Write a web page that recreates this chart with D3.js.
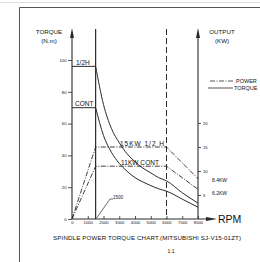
<!DOCTYPE html>
<html>
<head>
<meta charset="utf-8">
<script src="https://cdn.jsdelivr.net/npm/d3@7"></script>
<style>
  body { margin: 0; background: #fff; }
  svg text { font-family: "Liberation Sans Narrow", "Liberation Sans", Arial, sans-serif; fill: #111; }
</style>
</head>
<body>
<svg id="chart" width="260" height="262"></svg>
<script>
// chart data
var rpmTicks = [0, 1000, 2000, 3000, 4000, 5000, 6000, 7000, 8000];
var torqueTicks = [0, 20, 40, 60, 80, 100];
var powerTicks = [5, 10, 15, 20];

var rpm = [0, 1500, 2000, 2500, 3000, 3500, 4000, 4500, 5000, 5500, 6000, 7000, 8000];
var torqueHalfHour = [96, 96, 72, 57, 48, 41, 36, 32, 29, 26, 24, 16.5, 10];
var torqueCont = [70, 70, 52.5, 42, 35, 30, 26, 23.3, 21, 19, 17.5, 12.5, 7.4];

var powerRpm = [0, 1500, 6000, 8000];
var powerHalfHour = [0, 15, 15, 8.4];
var powerCont = [0, 11, 11, 6.2];

var baseRpm = 1500, maxRpm = 6000;

var svg = d3.select("#chart");
var ink = "#2a2a2a";

var x = d3.scaleLinear().domain([0, 8000]).range([72, 198]);
var yT = d3.scaleLinear().domain([0, 100]).range([219, 60]);
var yP = d3.scaleLinear().domain([0, 20]).range([219, 123]);

// drawing frame
svg.append("line").attr("x1", 0).attr("x2", 260).attr("y1", 2.5).attr("y2", 2.5)
   .attr("stroke", "#ddd").attr("stroke-width", 1);
svg.append("path").attr("d", "M19.5,262V7.5H260").attr("fill", "none")
   .attr("stroke", "#555").attr("stroke-width", 1);

// axes
var bottom = svg.append("g").attr("transform", "translate(0," + yT(0) + ")")
  .call(d3.axisBottom(x).tickValues(rpmTicks).tickSize(-3).tickPadding(4).tickFormat(d3.format("d")));
var left = svg.append("g").attr("transform", "translate(" + x(0) + ",0)")
  .call(d3.axisLeft(yT).tickValues(torqueTicks).tickSize(4).tickPadding(1.5));
var right = svg.append("g").attr("transform", "translate(" + x(8000) + ",0)")
  .call(d3.axisRight(yP).tickValues(powerTicks).tickSize(3).tickPadding(2));

[bottom, left, right].forEach(function(g) {
  g.select(".domain").remove();
  g.selectAll("line").attr("stroke", ink).attr("stroke-width", 0.8);
  g.selectAll("text").attr("font-size", 4.2).attr("fill", "#111")
    .style("font-family", "'Liberation Sans Narrow', 'Liberation Sans', Arial, sans-serif");
});
bottom.selectAll("text").attr("dy", "0.3em");

// axis lines with arrows
svg.append("line").attr("x1", x(0)).attr("x2", 207).attr("y1", yT(0)).attr("y2", yT(0))
   .attr("stroke", ink).attr("stroke-width", 1.1);
svg.append("path").attr("d", "M217," + yT(0) + "L206," + (yT(0) - 2) + "L206," + (yT(0) + 2) + "Z").attr("fill", ink);

[x(0), x(8000)].forEach(function(px) {
  svg.append("line").attr("x1", px).attr("x2", px).attr("y1", yT(0)).attr("y2", 36)
     .attr("stroke", ink).attr("stroke-width", 1.1);
  svg.append("path").attr("d", "M" + px + ",28L" + (px - 2) + ",38L" + (px + 2) + ",38Z").attr("fill", ink);
});

// 1500 rpm line and dashed 6000 rpm line
svg.append("line").attr("x1", x(baseRpm)).attr("x2", x(baseRpm)).attr("y1", 29).attr("y2", yT(0))
   .attr("stroke", ink).attr("stroke-width", 1.2);
svg.append("line").attr("x1", x(maxRpm)).attr("x2", x(maxRpm)).attr("y1", 29).attr("y2", yT(0))
   .attr("stroke", ink).attr("stroke-width", 1).attr("stroke-dasharray", "6,3");

// torque curves: flat to base speed, then falling curve
var torqueLine = d3.line().x(function(d) { return x(d[0]); }).y(function(d) { return yT(d[1]); })
  .curve(d3.curveMonotoneX);
[torqueHalfHour, torqueCont].forEach(function(series) {
  var pts = rpm.map(function(r, i) { return [r, series[i]]; });
  var flat = pts.filter(function(p) { return p[0] <= baseRpm; });
  var fall = pts.filter(function(p) { return p[0] >= baseRpm; });
  svg.append("path").attr("d", d3.line().x(function(d) { return x(d[0]); }).y(function(d) { return yT(d[1]); })(flat))
     .attr("fill", "none").attr("stroke", ink).attr("stroke-width", 1);
  svg.append("path").attr("d", torqueLine(fall)).attr("fill", "none")
     .attr("stroke", ink).attr("stroke-width", 1);
});

// power lines (dash-dot)
var powerLine = d3.line().x(function(d) { return x(d[0]); }).y(function(d) { return yP(d[1]); });
[powerHalfHour, powerCont].forEach(function(series) {
  var pts = powerRpm.map(function(r, i) { return [r, series[i]]; });
  svg.append("path").attr("d", powerLine(pts)).attr("fill", "none")
     .attr("stroke", ink).attr("stroke-width", 0.9).attr("stroke-dasharray", "5,1.5,1,1.5");
});

// labels
function label(txt, px, py, size, anchor) {
  return svg.append("text").attr("x", px).attr("y", py).attr("font-size", size)
     .attr("text-anchor", anchor || "start").text(txt);
}
label("TORQUE", 49, 34, 6.2, "middle");
label("(N.m)", 49, 43, 6.2, "middle");
label("OUTPUT", 222, 34, 6.2, "middle");
label("(KW)", 222, 43, 6.2, "middle");

label("1/2H", 76, 65, 6.5);
label("CONT", 75, 106, 6.5);
label("15KW  1/2  H", 120, 146, 6.5).attr("textLength", 44);
label("11KW  CONT", 121, 165, 6.5).attr("textLength", 38);
label("8.4KW", 212, 182, 5);
label("6.2KW", 212, 195, 5);
label("RPM", 218, 223, 10.5);

// 1500 leader
svg.append("path").attr("d", "M" + (x(baseRpm) + 1) + "," + (yT(0) - 1) + "L110,199H113")
   .attr("fill", "none").attr("stroke", ink).attr("stroke-width", 0.7);
label("1500", 113, 199, 4.5);

// legend
svg.append("line").attr("x1", 210).attr("x2", 233).attr("y1", 81).attr("y2", 81)
   .attr("stroke", ink).attr("stroke-width", 0.8).attr("stroke-dasharray", "5,1.5,1,1.5");
svg.append("line").attr("x1", 208).attr("x2", 233).attr("y1", 88).attr("y2", 88)
   .attr("stroke", ink).attr("stroke-width", 0.8);
label("POWER", 236, 83, 5.5);
label("TORQUE", 234, 90, 5.5);

// title
label("SPINDLE  POWER  TORQUE  CHART.(MITSUBISHI  SJ-V15-01ZT)", 53, 240, 6.2).attr("textLength", 188);
label("1:1", 171, 253, 5, "middle");
</script>
</body>
</html>
